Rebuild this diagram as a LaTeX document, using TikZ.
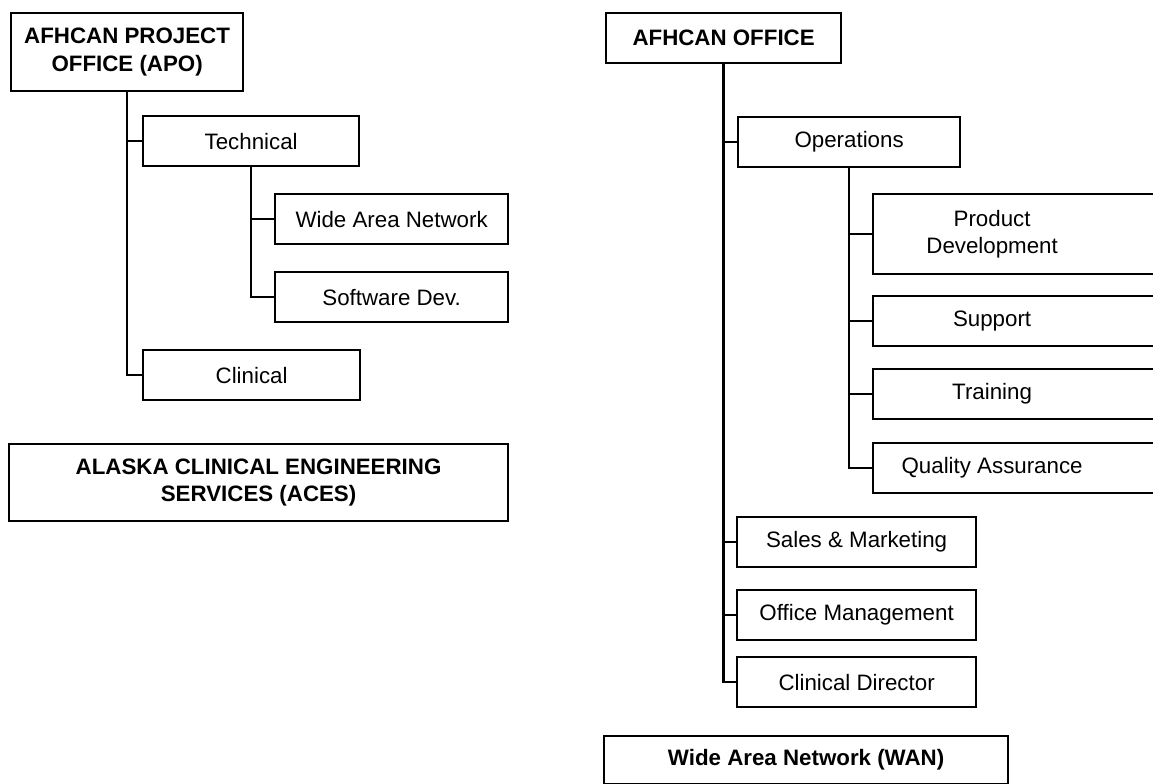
\documentclass[tikz,border=0pt]{standalone}
\usepackage{fontspec}
\setmainfont{Liberation Sans}
\usepackage{tikz}
\usetikzlibrary{positioning}

\begin{document}
\begin{tikzpicture}[x=0.02cm, y=-0.02cm,
    unitbox/.style={draw, line width=1.3pt, anchor=north west,
      minimum height=1cm, inner sep=2pt, align=center,
      font=\fontsize{12.7}{15.5}\selectfont},
    headbox/.style={unitbox, font=\fontsize{12.7}{15.5}\selectfont\bfseries},
    cutbox/.style={unitbox, minimum width=5.86cm},
    cuttext/.style={align=center, xshift=-0.55cm,
      font=\fontsize{12.7}{15.5}\selectfont},
    link/.style={line width=1.3pt}]
  \useasboundingbox (0,0) rectangle (1153,784);

  % left chart
  \node[headbox, minimum width=4.64cm, minimum height=1.56cm] (apo) at (10,12)
    {AFHCAN PROJECT\\OFFICE (APO)};
  \node[unitbox, minimum width=4.32cm] (tech) at (142,115) {Technical};
  \node[unitbox, minimum width=4.66cm] (wanet) at (274,193) {Wide Area Network};
  \node[unitbox, minimum width=4.66cm] (softdev) at (274,271) {Software Dev.};
  \node[unitbox, minimum width=4.34cm] (clin) at (142,349) {Clinical};
  \node[headbox, minimum width=9.98cm, minimum height=1.54cm] (aces) at (8,443)
    {ALASKA CLINICAL ENGINEERING\\SERVICES (ACES)};

  \draw[link] (apo.south) |- (clin.west);
  \draw[link] (apo.south |- tech.west) -- (tech.west);
  \draw[link] (tech.south) |- (softdev.west);
  \draw[link] (tech.south |- wanet.west) -- (wanet.west);

  % right chart
  \node[headbox, minimum width=4.7cm] (office) at (605,12) {AFHCAN OFFICE};
  \node[unitbox, minimum width=4.44cm] (ops) at (737,116) {Operations};
  \node[cutbox, minimum height=1.6cm,
    label={[cuttext]center:Product\\Development}] (prod) at (872,193) {};
  \node[cutbox, label={[cuttext]center:Support}] (supp) at (872,295) {};
  \node[cutbox, label={[cuttext]center:Training}] (train) at (872,368) {};
  \node[cutbox, label={[cuttext]center:Quality Assurance}] (qa) at (872,442) {};
  \node[unitbox, minimum width=4.78cm] (sales) at (736,516) {Sales \& Marketing};
  \node[unitbox, minimum width=4.78cm] (offman) at (736,589) {Office Management};
  \node[unitbox, minimum width=4.78cm] (clindir) at (736,656) {Clinical Director};
  \node[headbox, minimum width=8.08cm, minimum height=0.96cm] (wan) at (603,735)
    {Wide Area Network (WAN)};

  \draw[link] (office.south) |- (clindir.west);
  \foreach \sub in {ops,sales,offman}
    \draw[link] (office.south |- \sub.west) -- (\sub.west);
  \draw[link] (ops.south) |- (qa.west);
  \foreach \sub in {prod,supp,train}
    \draw[link] (ops.south |- \sub.west) -- (\sub.west);
\end{tikzpicture}
\end{document}
